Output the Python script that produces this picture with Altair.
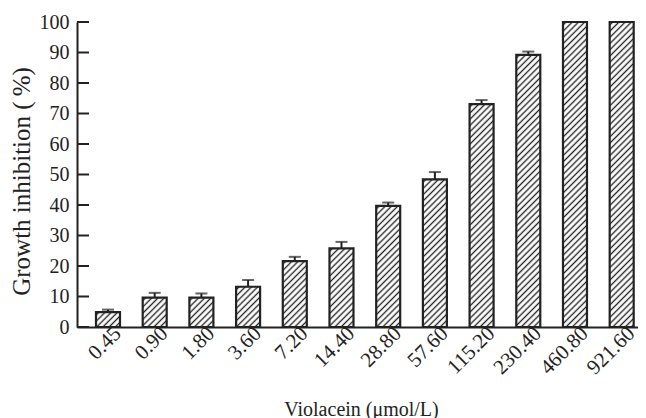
import urllib.parse
import altair as alt
import pandas as pd

# ---- data ----
conc = ["0.45", "0.90", "1.80", "3.60", "7.20", "14.40", "28.80",
        "57.60", "115.20", "230.40", "460.80", "921.60"]
inhibition = [4.9, 9.6, 9.6, 13.2, 21.6, 25.8, 39.7, 48.4, 73.1, 89.2, 100, 100]
err = [0.8, 1.6, 1.4, 2.2, 1.4, 2.1, 1.1, 2.4, 1.3, 1.1, 0, 0]
y_ticks = [0, 10, 20, 30, 40, 50, 60, 70, 80, 90, 100]

df = pd.DataFrame({"conc": conc, "val": inhibition, "err": err})
df["upper"] = df["val"] + df["err"]
ticks_df = pd.DataFrame({"t": y_ticks})

FONT = "Liberation Serif"
INK = "#222222"
W, H = 561, 305

# hatch texture (style asset)
hatch_svg = (
    "<svg xmlns='http://www.w3.org/2000/svg' width='100%' height='100%'>"
    "<defs><pattern id='h' width='4.4' height='10' patternUnits='userSpaceOnUse' "
    "patternTransform='rotate(45)'>"
    "<line x1='2.2' y1='0' x2='2.2' y2='10' stroke='#222' stroke-width='1.35'/>"
    "</pattern></defs><rect width='100%' height='100%' fill='url(#h)'/></svg>"
)
hatch_uri = "data:image/svg+xml;charset=utf-8," + urllib.parse.quote(hatch_svg)

x_scale = alt.Scale(domain=conc, paddingInner=0.486, paddingOuter=0.2495, align=0.815)
y_scale = alt.Scale(domain=[0, 100], nice=False)

x_axis = alt.Axis(
    title="Violacein (\u03bcmol/L)", labelAngle=315, labelAlign="right",
    labelBaseline="middle", labelPadding=3, labelOffset=10, ticks=False, tickSize=0,
    labelFont=FONT, labelFontSize=21, labelColor=INK,
    titleFont=FONT, titleFontSize=20, titleFontWeight="normal", titleColor=INK,
    titleX=284, titleY=88, titleAlign="center", titleBaseline="alphabetic",
    domainColor=INK, domainWidth=2, labelOverlap=False,
)
y_axis = alt.Axis(
    title="Growth inhibition (\u2009%)", values=y_ticks, ticks=False, tickSize=0,
    labelPadding=8, labelFont=FONT, labelFontSize=20, labelColor=INK,
    labelOverlap=False,
    titleFont=FONT, titleFontSize=25, titleFontWeight="normal", titleColor=INK,
    titleAngle=270, titleX=-56, titleY=159, titleAlign="center",
    titleBaseline="middle", domainColor=INK, domainWidth=2, grid=False,
)

X = alt.X("conc:N", scale=x_scale, sort=conc, axis=x_axis)


def Y(field):
    return alt.Y(field, scale=y_scale, axis=y_axis)


base = alt.Chart(df)

hatch = base.mark_image(aspect=False).encode(
    x=X, y=Y("val:Q"), y2=alt.datum(0), url=alt.value(hatch_uri)
)
outline = base.mark_bar(fill="white", fillOpacity=0, stroke=INK, strokeWidth=2.2).encode(
    x=X, y=Y("val:Q")
)
err_base = base.transform_filter("datum.err > 0")
whisker = err_base.mark_rule(color=INK, strokeWidth=2).encode(
    x=X, y=Y("val:Q"), y2="upper:Q"
)
cap = err_base.mark_tick(color=INK, thickness=2, size=12).encode(
    x=X, y=Y("upper:Q")
)
inner_ticks = alt.Chart(ticks_df).mark_rule(color=INK, strokeWidth=2).encode(
    x=alt.value(0), x2=alt.value(12), y=Y("t:Q")
)

chart = (
    alt.layer(hatch, outline, whisker, cap, inner_ticks)
    .properties(
        width=W, height=H,
        autosize=alt.AutoSizeParams(type="none"),
        padding={"left": 69, "top": 14, "right": 0, "bottom": 91},
        background="white",
    )
    .configure_view(stroke=None)
    .configure_axis(labelOverlap=False)
)

chart.save("out.html", embed_options={"renderer": "svg", "actions": False})
